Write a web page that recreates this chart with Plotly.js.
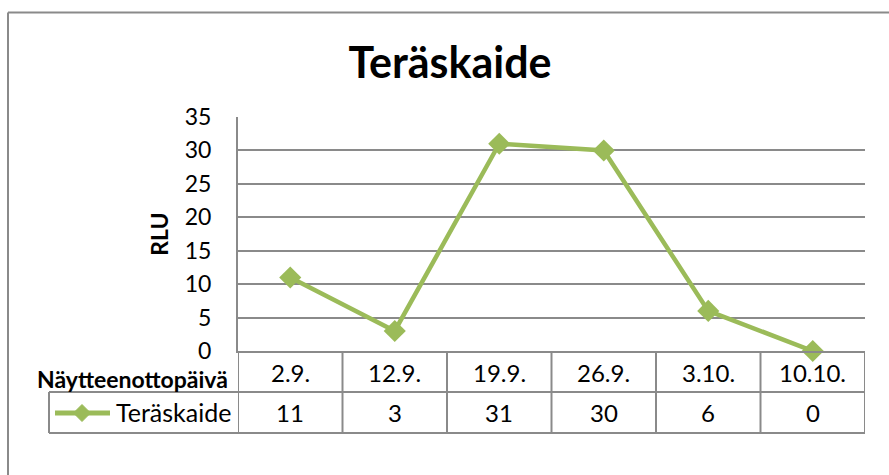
<!DOCTYPE html>
<html>
<head>
<meta charset="utf-8">
<script src="https://cdn.plot.ly/plotly-3.0.1.min.js"></script>
<style>
html,body{margin:0;padding:0;background:#fff;}
#chart{width:889px;height:475px;}
</style>
</head>
<body>
<div id="chart"></div>
<script>
// ---- data ----
const chartTitle = "Teräskaide";
const seriesName = "Teräskaide";
const categories = ["2.9.", "12.9.", "19.9.", "26.9.", "3.10.", "10.10."];
const values = [11, 3, 31, 30, 6, 0];
const yTicks = [0, 5, 10, 15, 20, 25, 30, 35];
const tableHeader = "Näytteenottopäivä";
const yTitle = "RLU";

// ---- layout geometry (pixels) ----
const W = 889, H = 475;
const L = 238, R = 24, T = 117, B = 124;
const PW = W - L - R, PH = H - T - B;
const px = x => (x - L) / PW;          // pixel x -> paper x
const py = y => (H - B - y) / PH;      // pixel y -> paper y

const green = "#9BBB59";
const grey = "#8a8a8a";
const font = "Lato, 'Open Sans', 'DejaVu Sans', sans-serif";

const row1Bottom = py(392);
const row2Bottom = py(433);
const legendLeft = px(49);

const shapes = [];
const lineStyle = {color: grey, width: 2};
// outer chart frame
shapes.push({type: "line", xref: "paper", yref: "paper", x0: px(8), x1: px(8), y0: py(12.5), y1: py(480), line: {color: grey, width: 2}});
shapes.push({type: "line", xref: "paper", yref: "paper", x0: px(8), x1: px(895), y0: py(12.5), y1: py(12.5), line: {color: grey, width: 2}});
// table horizontal lines
shapes.push({type: "line", xref: "paper", yref: "paper", x0: legendLeft, x1: 1, y0: row1Bottom, y1: row1Bottom, line: lineStyle});
shapes.push({type: "line", xref: "paper", yref: "paper", x0: legendLeft, x1: 1, y0: row2Bottom, y1: row2Bottom, line: lineStyle});
shapes.push({type: "line", xref: "paper", yref: "paper", x0: legendLeft, x1: legendLeft, y0: row1Bottom, y1: row2Bottom, line: lineStyle});
// table vertical lines at category borders
for (let i = 0; i <= categories.length; i++) {
  shapes.push({type: "line", xref: "x", yref: "paper", x0: i - 0.5, x1: i - 0.5, y0: 0, y1: row2Bottom, line: lineStyle});
}
// legend key (line + diamond)
const ky = py(413);
shapes.push({type: "line", xref: "paper", yref: "paper", x0: px(55), x1: px(110), y0: ky, y1: ky, line: {color: green, width: 5}});
const kcx = px(82), dx = 8.5 / PW, dy = 8.5 / PH;
shapes.push({type: "path", xref: "paper", yref: "paper",
  path: `M ${kcx - dx} ${ky} L ${kcx} ${ky + dy} L ${kcx + dx} ${ky} L ${kcx} ${ky - dy} Z`,
  fillcolor: green, line: {color: green, width: 1}});

const annotations = [];
annotations.push({xref: "paper", yref: "paper", x: px(230), y: py(379), xanchor: "right", yanchor: "middle",
  text: "<b>" + tableHeader + "</b>", showarrow: false, font: {family: font, size: 23, color: "#000"}});
annotations.push({xref: "paper", yref: "paper", x: px(233), y: py(412), xanchor: "right", yanchor: "middle",
  text: seriesName, showarrow: false, font: {family: font, size: 25, color: "#000"}});
categories.forEach((c, i) => {
  annotations.push({xref: "x", yref: "paper", x: c, y: py(372), xanchor: "center", yanchor: "middle",
    text: c, showarrow: false, font: {family: font, size: 24, color: "#000"}});
  annotations.push({xref: "x", yref: "paper", x: c, y: py(412), xanchor: "center", yanchor: "middle",
    text: String(values[i]), showarrow: false, font: {family: font, size: 24, color: "#000"}});
});

const trace = {
  type: "scatter", mode: "lines+markers", name: seriesName,
  x: categories, y: values,
  line: {color: green, width: 4.5},
  marker: {symbol: "diamond", size: 17, color: green},
  cliponaxis: false
};

const layout = {
  width: W, height: H,
  margin: {l: L, r: R, t: T, b: B, pad: 0},
  paper_bgcolor: "#fff", plot_bgcolor: "#fff",
  showlegend: false,
  title: {text: "<b>" + chartTitle + "</b>", x: 450 / W, xanchor: "center", y: 1 - 63 / H, yanchor: "middle",
    font: {family: font, size: 43, color: "#000"}},
  xaxis: {type: "category", range: [-0.5, categories.length - 0.5], showticklabels: false, ticks: "",
    showgrid: false, zeroline: false, showline: true, linecolor: grey, linewidth: 2, fixedrange: true},
  yaxis: {range: [0, 35], tickvals: yTicks, ticktext: yTicks.map(String), ticks: "", ticklabelstandoff: 20,
    showgrid: true, gridcolor: grey, gridwidth: 2, zeroline: false, showline: true, linecolor: grey, linewidth: 2,
    tickfont: {family: font, size: 23, color: "#000"},
    title: {text: "<b>" + yTitle + "</b>", standoff: 10, font: {family: font, size: 23, color: "#000"}},
    fixedrange: true},
  shapes: shapes,
  annotations: annotations
};

Plotly.newPlot("chart", [trace], layout, {staticPlot: true, displayModeBar: false});
</script>
</body>
</html>
